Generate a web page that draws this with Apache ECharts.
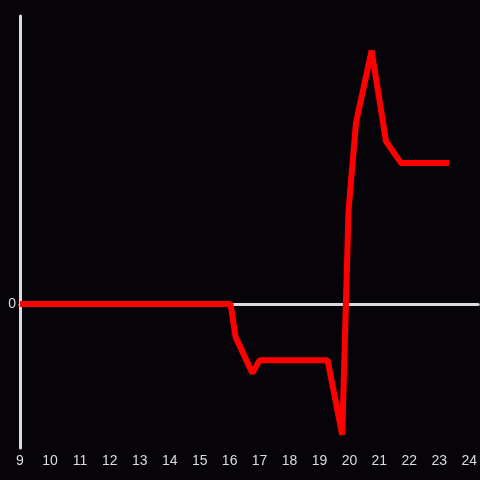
<!DOCTYPE html>
<html>
<head>
<meta charset="utf-8">
<script src="https://cdn.jsdelivr.net/npm/echarts@6/dist/echarts.min.js"></script>
<style>
  html, body { margin: 0; padding: 0; background: #060408; }
  #chart { width: 480px; height: 480px; }
</style>
</head>
<body>
<div id="chart"></div>
<script>
// hours of the day and the values
var hours  = [9, 16.03, 16.2, 16.76, 17.0, 19.27, 19.76, 19.97, 20.22, 20.74, 21.22, 21.72, 23.33];
var values = [0, 0, -23, -48, -39, -39, -91, 65, 126, 176, 113, 98, 98];

var xTickLabels = ['9','10','11','12','13','14','15','16','17','18','19','20','21','22','23','24'];

var axisColor = '#dcdcdc';

var chart = echarts.init(document.getElementById('chart'));

chart.setOption({
  backgroundColor: '#060408',
  animation: false,
  grid: { left: 20, right: 0, top: 16, bottom: 32 },
  xAxis: [
    {
      type: 'value',
      min: 9,
      max: 24.3,
      interval: 1,
      axisLine: { show: false, onZero: false },
      axisTick: { show: false },
      splitLine: { show: false },
      axisLabel: {
        color: axisColor,
        fontSize: 14,
        margin: 6,
        fontFamily: 'Liberation Sans, Arial, sans-serif',
        formatter: function (v) {
          var i = Math.round(v) - 9;
          return xTickLabels[i] !== undefined ? xTickLabels[i] : '';
        }
      }
    },
    {
      // just the zero line
      type: 'value',
      min: 9,
      max: 24.3,
      position: 'bottom',
      axisLine: { show: true, onZero: true, lineStyle: { color: axisColor, width: 3 } },
      axisTick: { show: false },
      axisLabel: { show: false },
      splitLine: { show: false }
    }
  ],
  yAxis: {
    type: 'value',
    min: -100,
    max: 200,
    interval: 100,
    axisLine: { show: true, lineStyle: { color: axisColor, width: 3 } },
    axisTick: { show: false },
    splitLine: { show: false },
    axisLabel: {
      color: axisColor,
      fontSize: 14,
      margin: 4,
      fontFamily: 'Liberation Sans, Arial, sans-serif',
      formatter: function (v) { return v === 0 ? '0' : ''; }
    }
  },
  series: [{
    type: 'line',
    xAxisIndex: 0,
    data: hours.map(function (h, i) { return [h, values[i]]; }),
    showSymbol: false,
    lineStyle: { color: '#ff0000', width: 6 },
    z: 5
  }]
});
</script>
</body>
</html>
